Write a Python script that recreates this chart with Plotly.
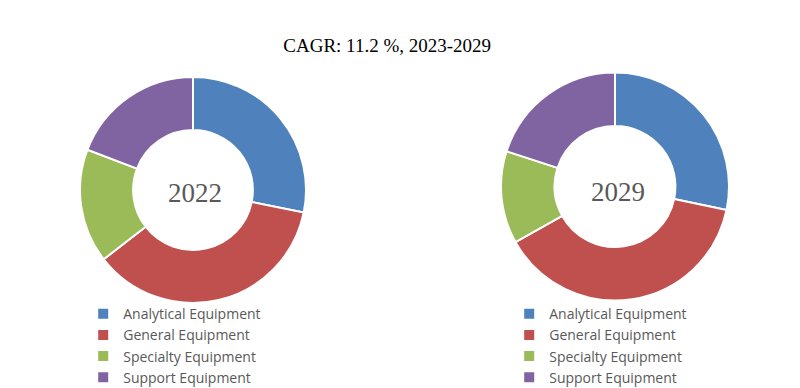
import plotly.graph_objects as go

categories = ["Analytical Equipment", "General Equipment", "Specialty Equipment", "Support Equipment"]
values_2022 = [28.2, 36.3, 16.3, 19.2]
values_2029 = [28.3, 38.6, 13.1, 20.0]
colors = ["#4F81BD", "#C0504D", "#9BBB59", "#8064A2"]
title_text = "CAGR: 11.2 %, 2023-2029"
years = ["2022", "2029"]

fig = go.Figure()
fig.add_trace(go.Pie(
    labels=categories, values=values_2022, hole=0.53, sort=False, direction="clockwise",
    rotation=0, marker=dict(colors=colors, line=dict(color="white", width=2)),
    textinfo="none", hoverinfo="label+percent", legendgroup="g2022", legendwidth=381,
    domain=dict(x=[0.09, 0.3725], y=[0.2397, 0.8222]), showlegend=True,
))
fig.add_trace(go.Pie(
    labels=categories, values=values_2029, hole=0.53, sort=False, direction="clockwise",
    rotation=0, marker=dict(colors=colors, line=dict(color="white", width=2)),
    textinfo="none", hoverinfo="label+percent", legendgroup="g2029",
    domain=dict(x=[0.61625, 0.90125], y=[0.2461, 0.8338]), showlegend=True,
))

legend_font = dict(family="Open Sans, Liberation Sans, Arial, sans-serif", size=14, color="#595959")
fig.update_layout(
    width=800, height=388,
    margin=dict(l=0, r=0, t=0, b=0, autoexpand=False),
    paper_bgcolor="white", plot_bgcolor="white",
    showlegend=True,
    title=dict(text=title_text, x=0.474, xanchor="center", y=0.9046, yanchor="middle",
               font=dict(family="Liberation Serif, DejaVu Serif, serif", size=19, color="#000000")),
    legend=dict(x=0.094, xanchor="left", y=0.2523, yanchor="top", orientation="h",
                traceorder="grouped",
                font=legend_font, bgcolor="rgba(0,0,0,0)", itemclick=False),
    annotations=[
        dict(text=years[0], x=0.23375, y=0.5232, xref="paper", yref="paper", showarrow=False,
             xanchor="center", yanchor="middle",
             font=dict(family="Liberation Serif, DejaVu Serif, serif", size=27, color="#595959")),
        dict(text=years[1], x=0.7625, y=0.5258, xref="paper", yref="paper", showarrow=False,
             xanchor="center", yanchor="middle",
             font=dict(family="Liberation Serif, DejaVu Serif, serif", size=27, color="#595959")),
    ],
)

fig.write_html("out.html")
